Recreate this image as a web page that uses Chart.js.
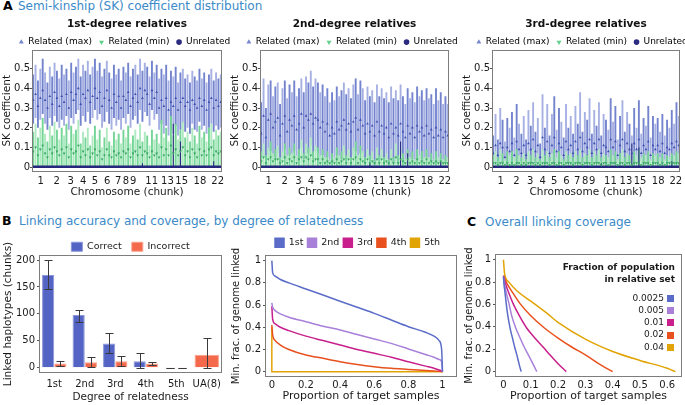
<!DOCTYPE html>
<html><head><meta charset="utf-8">
<script src="https://cdn.jsdelivr.net/npm/chart.js@4/dist/chart.umd.min.js"></script>
<style>
html,body{margin:0;padding:0;background:#fff;overflow:hidden}
#wrap{position:relative;width:685px;height:405px;background:#fff;font-family:'DejaVu Sans',sans-serif;overflow:hidden}
canvas{position:absolute}
.pl{position:absolute;font-weight:bold;font-size:12.5px;line-height:14px;color:#000;white-space:nowrap}
.pt{position:absolute;font-size:12px;line-height:14px;color:#3b8ac9;white-space:nowrap}
</style></head><body>
<div id="wrap">
<div class="pl" style="left:3px;top:-1px">A</div><div class="pt" style="left:18px;top:-1px">Semi-kinship (SK) coefficient distribution</div>
<div class="pl" style="left:2px;top:214px">B</div><div class="pt" style="left:19px;top:214px">Linking accuracy and coverage, by degree of relatedness</div>
<div class="pl" style="left:467px;top:215px">C</div><div class="pt" style="left:485px;top:215px">Overall linking coverage</div>
<canvas id="a1" width="249" height="190" style="left:0px;top:14px"></canvas>
<canvas id="a2" width="248" height="190" style="left:228px;top:14px"></canvas>
<canvas id="a3" width="244" height="190" style="left:460px;top:14px"></canvas>
<canvas id="b1" width="228" height="173" style="left:0px;top:232px"></canvas>
<canvas id="b2" width="259" height="171" style="left:228px;top:234px"></canvas>
<canvas id="c1" width="225" height="173" style="left:460px;top:232px"></canvas>
</div>
<script>
// ---------- Panel A data (SK coefficient per chromosome chunk) ----------
const chrLabels = ['1','2','3','4','5','6','7','8','9','11','13','15','18','22'];
const chrTickPos = [3.7,10.4,16.3,21.6,26.5,31.7,36.3,39.6,42.6,50.4,57.0,63.0,70.7,78.2];
const skTicks = [0,0.1,0.2,0.3,0.4,0.5];
const skLegendLabels = ['Related (max)','Related (min)','Unrelated'];

const a1MaxHigh = [0.47,0.52,0.44,0.50,0.55,0.48,0.43,0.51,0.46,0.53,0.49,0.45,0.52,0.47,0.50,0.44,0.53,0.48,0.51,0.55,0.46,0.52,0.49,0.54,0.47,0.51,0.55,0.49,0.53,0.46,0.50,0.54,0.48,0.45,0.52,0.47,0.50,0.44,0.51,0.48,0.53,0.46,0.50,0.52,0.47,0.55,0.49,0.53,0.51,0.46,0.54,0.48,0.52,0.45,0.50,0.47,0.52,0.44,0.49,0.46,0.51,0.43,0.48,0.50,0.45,0.47,0.43,0.49,0.46,0.44,0.50,0.45,0.48,0.43,0.47,0.50,0.44,0.48,0.45,0.47];
const a1MaxLow = [0.22,0.25,0.20,0.24,0.27,0.22,0.19,0.25,0.21,0.26,0.23,0.20,0.24,0.21,0.26,0.19,0.25,0.22,0.27,0.29,0.21,0.26,0.23,0.28,0.22,0.25,0.29,0.24,0.27,0.20,0.23,0.28,0.22,0.19,0.25,0.21,0.24,0.19,0.25,0.22,0.27,0.20,0.24,0.26,0.22,0.29,0.23,0.28,0.26,0.21,0.29,0.24,0.27,0.19,0.22,0.17,0.21,0.16,0.19,0.17,0.21,0.16,0.19,0.22,0.18,0.20,0.17,0.22,0.19,0.18,0.23,0.19,0.21,0.17,0.20,0.22,0.18,0.21,0.19,0.20];
const a1MaxMean = [0.34,0.37,0.31,0.35,0.39,0.34,0.30,0.36,0.32,0.38,0.35,0.31,0.36,0.33,0.37,0.30,0.38,0.34,0.37,0.40,0.32,0.37,0.35,0.39,0.33,0.36,0.40,0.35,0.38,0.31,0.35,0.39,0.34,0.30,0.37,0.33,0.36,0.30,0.36,0.34,0.38,0.31,0.35,0.37,0.33,0.40,0.35,0.39,0.37,0.32,0.39,0.35,0.38,0.30,0.34,0.31,0.35,0.29,0.33,0.31,0.35,0.29,0.33,0.35,0.31,0.33,0.29,0.34,0.32,0.30,0.35,0.31,0.34,0.29,0.33,0.35,0.30,0.34,0.31,0.33];
const a1MinHigh = [0.18,0.22,0.15,0.20,0.25,0.17,0.13,0.21,0.16,0.23,0.19,0.14,0.20,0.16,0.22,0.12,0.21,0.17,0.19,0.24,0.12,0.18,0.15,0.20,0.11,0.16,0.21,0.14,0.19,0.10,0.15,0.20,0.13,0.11,0.18,0.14,0.17,0.12,0.19,0.15,0.21,0.12,0.16,0.19,0.14,0.22,0.13,0.18,0.16,0.11,0.19,0.14,0.17,0.12,0.24,0.15,0.20,0.13,0.26,0.16,0.22,0.14,0.19,0.23,0.15,0.18,0.13,0.20,0.16,0.12,0.21,0.15,0.18,0.13,0.20,0.22,0.14,0.19,0.16,0.18];
const a1MinMean = [0.08,0.10,0.06,0.09,0.11,0.07,0.05,0.09,0.07,0.10,0.08,0.06,0.09,0.07,0.10,0.05,0.09,0.07,0.08,0.11,0.05,0.08,0.06,0.09,0.05,0.07,0.09,0.06,0.08,0.04,0.06,0.09,0.06,0.05,0.08,0.06,0.07,0.05,0.08,0.07,0.09,0.05,0.07,0.08,0.06,0.10,0.06,0.08,0.07,0.05,0.08,0.06,0.07,0.05,0.10,0.06,0.09,0.06,0.11,0.07,0.09,0.06,0.08,0.10,0.06,0.08,0.05,0.09,0.07,0.05,0.09,0.06,0.08,0.06,0.09,0.10,0.06,0.08,0.07,0.08];

const a2MaxHigh = [0.33,0.45,0.30,0.42,0.44,0.36,0.41,0.43,0.32,0.40,0.44,0.35,0.42,0.38,0.44,0.36,0.40,0.45,0.38,0.46,0.43,0.49,0.41,0.45,0.43,0.38,0.42,0.36,0.40,0.33,0.38,0.34,0.41,0.36,0.39,0.43,0.37,0.40,0.35,0.42,0.45,0.37,0.44,0.40,0.34,0.41,0.36,0.39,0.33,0.42,0.36,0.40,0.35,0.38,0.33,0.41,0.35,0.39,0.34,0.42,0.36,0.32,0.40,0.35,0.38,0.33,0.41,0.36,0.39,0.34,0.40,0.35,0.37,0.32,0.40,0.34,0.38,0.32,0.36,0.32];
const a2MaxLow = [0.02,0.05,0.01,0.06,0.08,0.03,0.05,0.07,0.02,0.04,0.09,0.03,0.06,0.04,0.08,0.03,0.05,0.10,0.04,0.09,0.07,0.11,0.05,0.08,0.07,0.03,0.06,0.02,0.05,0.01,0.04,0.02,0.06,0.03,0.04,0.07,0.03,0.05,0.02,0.06,0.08,0.03,0.07,0.05,0.02,0.05,0.03,0.04,0.01,0.06,0.03,0.05,0.02,0.04,0.01,0.05,0.02,0.04,0.02,0.06,0.03,0.01,0.05,0.02,0.04,0.01,0.05,0.03,0.04,0.02,0.05,0.02,0.03,0.01,0.05,0.02,0.04,0.01,0.03,0.01];
const a2MaxMean = [0.17,0.26,0.15,0.24,0.27,0.20,0.23,0.25,0.16,0.22,0.26,0.18,0.24,0.21,0.26,0.19,0.22,0.27,0.20,0.26,0.24,0.27,0.22,0.25,0.24,0.20,0.23,0.18,0.22,0.16,0.20,0.17,0.23,0.19,0.21,0.24,0.19,0.22,0.18,0.23,0.25,0.19,0.24,0.21,0.17,0.22,0.18,0.21,0.16,0.23,0.18,0.21,0.17,0.20,0.15,0.22,0.17,0.20,0.16,0.22,0.18,0.15,0.21,0.17,0.20,0.15,0.21,0.18,0.20,0.16,0.21,0.17,0.19,0.15,0.20,0.16,0.19,0.15,0.18,0.16];
const a2MinHigh = [0.08,0.12,0.06,0.10,0.13,0.07,0.09,0.11,0.05,0.08,0.12,0.06,0.10,0.07,0.12,0.06,0.09,0.14,0.07,0.12,0.10,0.15,0.08,0.11,0.10,0.06,0.09,0.05,0.08,0.04,0.07,0.05,0.10,0.06,0.08,0.11,0.06,0.09,0.05,0.10,0.13,0.06,0.11,0.08,0.05,0.09,0.06,0.08,0.04,0.10,0.06,0.09,0.05,0.07,0.04,0.09,0.05,0.12,0.06,0.10,0.07,0.04,0.09,0.05,0.08,0.04,0.09,0.06,0.08,0.05,0.09,0.05,0.07,0.04,0.08,0.05,0.07,0.04,0.06,0.05];
const a2MinMean = [0.03,0.05,0.02,0.04,0.05,0.03,0.04,0.04,0.02,0.03,0.05,0.02,0.04,0.03,0.05,0.02,0.04,0.05,0.03,0.05,0.04,0.06,0.03,0.04,0.04,0.02,0.04,0.02,0.03,0.02,0.03,0.02,0.04,0.02,0.03,0.04,0.02,0.04,0.02,0.04,0.05,0.02,0.04,0.03,0.02,0.04,0.02,0.03,0.02,0.04,0.02,0.04,0.02,0.03,0.02,0.04,0.02,0.05,0.02,0.04,0.03,0.02,0.04,0.02,0.03,0.02,0.04,0.02,0.03,0.02,0.04,0.02,0.03,0.02,0.03,0.02,0.03,0.02,0.02,0.02];

const a3MaxHigh = [0.16,0.27,0.14,0.30,0.24,0.13,0.25,0.20,0.28,0.15,0.32,0.22,0.17,0.26,0.14,0.29,0.21,0.33,0.18,0.25,0.12,0.37,0.20,0.32,0.16,0.27,0.36,0.19,0.30,0.23,0.15,0.32,0.20,0.26,0.17,0.31,0.22,0.38,0.18,0.28,0.24,0.35,0.17,0.29,0.21,0.33,0.16,0.27,0.24,0.19,0.35,0.23,0.31,0.14,0.26,0.34,0.18,0.28,0.22,0.16,0.30,0.20,0.34,0.17,0.25,0.21,0.31,0.15,0.26,0.22,0.25,0.18,0.27,0.16,0.24,0.20,0.29,0.22,0.33,0.26];
const a3MaxLow = [0.02,0.01,0.03,0.01,0.02,0.03,0.01,0.02,0.01,0.03,0.01,0.02,0.03,0.01,0.03,0.01,0.02,0.01,0.02,0.01,0.03,0.01,0.02,0.01,0.03,0.01,0.01,0.02,0.01,0.02,0.03,0.01,0.02,0.01,0.03,0.01,0.02,0.01,0.02,0.01,0.02,0.01,0.03,0.01,0.02,0.01,0.03,0.01,0.02,0.02,0.01,0.02,0.01,0.03,0.01,0.01,0.02,0.01,0.02,0.03,0.01,0.02,0.01,0.03,0.01,0.02,0.01,0.03,0.01,0.02,0.01,0.02,0.01,0.03,0.01,0.02,0.01,0.02,0.01,0.01];
const a3MaxMean = [0.07,0.11,0.06,0.12,0.10,0.05,0.10,0.08,0.12,0.06,0.13,0.09,0.07,0.11,0.06,0.12,0.09,0.14,0.08,0.11,0.05,0.15,0.09,0.13,0.07,0.11,0.15,0.08,0.12,0.10,0.06,0.13,0.09,0.11,0.07,0.13,0.09,0.15,0.08,0.12,0.10,0.14,0.07,0.12,0.09,0.14,0.07,0.11,0.10,0.08,0.14,0.10,0.13,0.06,0.11,0.14,0.08,0.12,0.09,0.07,0.12,0.09,0.14,0.07,0.11,0.09,0.13,0.06,0.11,0.09,0.11,0.08,0.12,0.07,0.10,0.09,0.12,0.10,0.13,0.11];
const a3MinHigh = [0.06,0.08,0.05,0.09,0.07,0.04,0.08,0.06,0.08,0.05,0.09,0.06,0.05,0.07,0.04,0.08,0.06,0.09,0.05,0.07,0.04,0.09,0.06,0.08,0.05,0.07,0.09,0.05,0.08,0.06,0.04,0.08,0.06,0.07,0.05,0.08,0.06,0.09,0.05,0.07,0.06,0.09,0.05,0.08,0.06,0.09,0.05,0.07,0.06,0.05,0.09,0.06,0.08,0.04,0.07,0.09,0.05,0.07,0.06,0.04,0.08,0.06,0.09,0.05,0.07,0.06,0.08,0.04,0.07,0.06,0.07,0.05,0.07,0.04,0.06,0.05,0.07,0.06,0.08,0.07];
const a3MinMean = [0.02,0.02,0.01,0.02,0.02,0.01,0.02,0.01,0.02,0.01,0.02,0.02,0.01,0.02,0.01,0.02,0.02,0.02,0.01,0.02,0.01,0.02,0.02,0.02,0.01,0.02,0.02,0.01,0.02,0.02,0.01,0.02,0.02,0.02,0.01,0.02,0.02,0.02,0.01,0.02,0.02,0.02,0.01,0.02,0.02,0.02,0.01,0.02,0.02,0.01,0.02,0.02,0.02,0.01,0.02,0.02,0.01,0.02,0.02,0.01,0.02,0.02,0.02,0.01,0.02,0.02,0.02,0.01,0.02,0.02,0.02,0.01,0.02,0.01,0.02,0.02,0.02,0.02,0.02,0.02];

// unrelated pairs: near-zero level everywhere plus a few spikes
const unrelSpikeChunks = [46,59,62,76];
const a1UnrelSpikes = [0.02,0.22,0.13,0.03];
const a2UnrelSpikes = [0.02,0.13,0.07,0.03];
const a3UnrelSpikes = [0.02,0.12,0.10,0.03];
const unrelLevel = [0.002,0.002,0.002];

// ---------- Panel B data ----------
const degrees = ['1st','2nd','3rd','4th','5th','UA(8)'];
const correct = [172,98,45,12,0.4,null];
const correctLo = [146,85,28,0,0,null];
const correctHi = [200,108,64,27,0.4,null];
const incorrect = [8,10,12,8,0.4,24];
const incorrectLo = [4,2,4,5,0,0];
const incorrectHi = [12,19,22,11,0.4,56];
const barTicks = [0,50,100,150,200];

const propX = [0,0.005,0.02,0.05,0.1,0.2,0.3,0.4,0.5,0.6,0.7,0.8,0.9,0.95,0.98,0.995,1];
const deg1 = [1.0,0.89,0.86,0.83,0.80,0.745,0.69,0.635,0.58,0.525,0.465,0.405,0.355,0.32,0.28,0.2,0.0];
const deg2 = [0.62,0.58,0.55,0.52,0.49,0.45,0.41,0.375,0.335,0.295,0.255,0.205,0.155,0.13,0.11,0.09,0.0];
const deg3 = [0.59,0.47,0.43,0.40,0.37,0.32,0.28,0.24,0.20,0.165,0.13,0.09,0.05,0.03,0.015,0.005,0.0];
const deg4 = [0.42,0.33,0.28,0.24,0.20,0.15,0.12,0.09,0.065,0.045,0.03,0.02,0.01,0.006,0.003,0.001,0.0];
const deg5X = [0,0,1];
const deg5 = [0.40,0,0];
const degLabels = ['1st','2nd','3rd','4th','5th'];
const fracTicks = [0,0.2,0.4,0.6,0.8,1];

// ---------- Panel C data ----------
const covLabels = ['0.0025','0.005','0.01','0.02','0.04'];
const covX0025 = [0,0.002,0.005,0.01,0.016,0.025,0.033,0.041,0.049,0.058,0.065];
const cov0025 = [0.85,0.78,0.72,0.61,0.50,0.38,0.30,0.22,0.15,0.06,0.0];
const covX005 = [0,0.004,0.009,0.02,0.03,0.045,0.061,0.076,0.091,0.108,0.122];
const cov005 = [0.85,0.78,0.72,0.61,0.50,0.39,0.30,0.22,0.15,0.07,0.0];
const covX01 = [0,0.008,0.017,0.035,0.058,0.085,0.115,0.145,0.17,0.2,0.23];
const cov01 = [0.85,0.78,0.72,0.61,0.50,0.39,0.30,0.22,0.15,0.07,0.0];
const covX02 = [0,0.012,0.03,0.06,0.1,0.15,0.2,0.25,0.3,0.35,0.4];
const cov02 = [0.86,0.79,0.72,0.61,0.50,0.39,0.30,0.22,0.15,0.07,0.0];
const covX04 = [0,0.004,0.02,0.05,0.1,0.16,0.2,0.3,0.4,0.5,0.6,0.63];
const cov04 = [1.0,0.88,0.8,0.72,0.63,0.52,0.44,0.29,0.18,0.1,0.03,0.0];
const covTicksX = [0,0.1,0.2,0.3,0.4,0.5,0.6];
const covLegendTitle = ['Fraction of population','in relative set'];

// ---------- common ----------
const FF = "'DejaVu Sans', sans-serif";
Chart.defaults.font.family = FF;
Chart.defaults.color = '#1a1a1a';
Chart.defaults.animation = false;
Chart.defaults.events = [];
Chart.defaults.plugins.tooltip.enabled = false;
const palette = ['#5b6cc8','#a880da','#c81f8c','#e8511d','#e2a404'];

const boxPlugin = {id:'box', afterDraw(chart){
  const a = chart.chartArea, ctx = chart.ctx;
  ctx.save(); ctx.strokeStyle = '#7d7d7d'; ctx.lineWidth = 1;
  ctx.strokeRect(Math.round(a.left)+0.5, Math.round(a.top)+0.5, Math.round(a.right-a.left)-1, Math.round(a.bottom-a.top)-1);
  ctx.restore();
}};
const setTicks = vals => s => { s.ticks = vals.map(v => ({value: v})); };
const yTickGrid = {display:true, drawOnChartArea:false, drawTicks:true, tickLength:2, color:'#555'};
const noGrid = {display:false, drawTicks:false};
// an empty right-hand spacer axis so the full-width legend can be centred like the original
const spacerAxis = w => ({position:'right', display:true, min:0, max:1, grid:noGrid, border:{display:false}, ticks:{display:false}, afterFit: s => { s.width = w; }});

function skChart(id, title, padRight, mx, mn, spikes, level) {
  const n = mx.high.length;
  const xs = mx.high.map((_, i) => i + 0.5);
  new Chart(document.getElementById(id), {
    type: 'bar',
    data: { datasets: [
      {type:'line', data: xs.map((x,i)=>({x, y:mx.mean[i]})), showLine:false, pointStyle:'triangle', pointRadius:1.6, pointBackgroundColor:'#3f50b0', pointBorderWidth:0, order:0},
      {type:'line', data: xs.map((x,i)=>({x, y:mn.mean[i]})), showLine:false, pointStyle:'triangle', pointRotation:180, pointRadius:1.6, pointBackgroundColor:'#33a35e', pointBorderWidth:0, order:1},
      {type:'line', data: [{x:0, y:level},{x:n, y:level}], borderColor:'#26267c', borderWidth:2.5, pointRadius:0, order:2},
      {type:'bar', data: unrelSpikeChunks.map((c,i)=>({x:c+0.5, y:[0, spikes[i]]})), backgroundColor:'#26267c', barPercentage:0.45, categoryPercentage:1, grouped:false, order:3},
      {type:'bar', data: xs.map((x,i)=>({x, y:[0, mn.high[i]]})), backgroundColor: c => c.dataIndex % 2 ? '#aee9c0' : '#74d596', barPercentage:0.8, categoryPercentage:1, grouped:false, order:4},
      {type:'bar', data: xs.map((x,i)=>({x, y:[mx.low[i], mx.high[i]]})), backgroundColor: c => c.dataIndex % 2 ? '#a6b0e3' : '#7383cd', barPercentage:0.8, categoryPercentage:1, grouped:false, order:5}
    ]},
    options: {
      responsive:false, devicePixelRatio:1,
      layout:{padding:0},
      plugins:{
        title:{display:true, text:title, fullSize:false, font:{size:10.5, weight:'bold'}, padding:{top:4, bottom:0}, color:'#111'},
        legend:{display:true, fullSize:true, maxHeight:19, labels:{usePointStyle:true, boxWidth:5, boxHeight:4, padding:7, font:{size:9},
          generateLabels: () => [
            {text:skLegendLabels[0], fillStyle:'#7585d0', strokeStyle:'#7585d0', lineWidth:0, pointStyle:'triangle', rotation:0, hidden:false},
            {text:skLegendLabels[1], fillStyle:'#5fd08a', strokeStyle:'#5fd08a', lineWidth:0, pointStyle:'triangle', rotation:180, hidden:false},
            {text:skLegendLabels[2], fillStyle:'#2b2b80', strokeStyle:'#2b2b80', lineWidth:0, pointStyle:'circle', rotation:0, hidden:false}
          ]}}
      },
      scales:{
        x:{type:'linear', min:0, max:n, offset:false, grid:noGrid, border:{display:false},
           afterBuildTicks: setTicks(chrTickPos), afterFit: s => { s.height = 32; },
           ticks:{autoSkip:false, maxRotation:0, padding:3, font:{size:10}, callback:(v,i)=>chrLabels[i]},
           title:{display:true, text:'Chromosome (chunk)', font:{size:10.5}, padding:{top:0, bottom:5}}},
        y:{min:-0.025, max:0.597, grid:yTickGrid, border:{display:false},
           afterBuildTicks: setTicks(skTicks), afterFit: s => { s.width = 32; },
           ticks:{padding:0, font:{size:10}, callback:v=>String(v)},
           title:{display:true, text:'SK coefficient', font:{size:10.5}, padding:{top:1, bottom:0}}},
        yR: spacerAxis(padRight)
      }
    },
    plugins:[boxPlugin]
  });
}
skChart('a1','1st-degree relatives',27,{high:a1MaxHigh,low:a1MaxLow,mean:a1MaxMean},{high:a1MinHigh,mean:a1MinMean},a1UnrelSpikes,unrelLevel[0]);
skChart('a2','2nd-degree relatives',27,{high:a2MaxHigh,low:a2MaxLow,mean:a2MaxMean},{high:a2MinHigh,mean:a2MinMean},a2UnrelSpikes,unrelLevel[1]);
skChart('a3','3rd-degree relatives',24,{high:a3MaxHigh,low:a3MaxLow,mean:a3MaxMean},{high:a3MinHigh,mean:a3MinMean},a3UnrelSpikes,unrelLevel[2]);

// ---------- B1: bars with error bars ----------
const errBars = [{lo:correctLo, hi:correctHi},{lo:incorrectLo, hi:incorrectHi}];
const errPlugin = {id:'err', afterDatasetsDraw(chart){
  const ctx = chart.ctx, y = chart.scales.y;
  ctx.save(); ctx.strokeStyle = '#3a3a3a'; ctx.lineWidth = 1;
  errBars.forEach((eb, d) => {
    chart.getDatasetMeta(d).data.forEach((el, i) => {
      if (eb.lo[i] == null || eb.hi[i] == null) return;
      const x = Math.round(el.x) + 0.5;
      const y1 = Math.round(y.getPixelForValue(eb.lo[i])) + 0.5, y2 = Math.round(y.getPixelForValue(eb.hi[i])) + 0.5;
      ctx.beginPath();
      ctx.moveTo(x, y1); ctx.lineTo(x, y2);
      ctx.moveTo(x-4, y1); ctx.lineTo(x+4, y1);
      ctx.moveTo(x-4, y2); ctx.lineTo(x+4, y2);
      ctx.stroke();
    });
  });
  ctx.restore();
}};
new Chart(document.getElementById('b1'), {
  type:'bar',
  data:{labels:degrees, datasets:[
    {label:'Correct', data:correct, backgroundColor:'#5364c4', borderColor:'#8a96d8', borderWidth:1, skipNull:true},
    {label:'Incorrect', data:incorrect, backgroundColor:'#f4694b', borderColor:'#f9a18c', borderWidth:1, skipNull:true}
  ]},
  options:{
    responsive:false, devicePixelRatio:1, categoryPercentage:0.8, barPercentage:1,
    layout:{padding:{left:0, right:6, top:0, bottom:0}},
    plugins:{legend:{fullSize:false, maxHeight:23, labels:{boxWidth:11, boxHeight:9, padding:10, font:{size:9.5}}}},
    scales:{
      x:{grid:noGrid, border:{display:false}, afterFit: s => { s.height = 32; },
         ticks:{padding:5, autoSkip:false, maxRotation:0, minRotation:0, font:{size:10}},
         title:{display:true, text:'Degree of relatedness', font:{size:10.5}, padding:{top:0, bottom:1}}},
      y:{min:-9.8, max:209.3, grid:yTickGrid, border:{display:false},
         afterBuildTicks: setTicks(barTicks), afterFit: s => { s.width = 39; },
         ticks:{padding:2, font:{size:10}, callback:v=>String(v)},
         title:{display:true, text:'Linked haplotypes (chunks)', font:{size:10.5}, padding:{top:2, bottom:0}}}
    }
  },
  plugins:[boxPlugin, errPlugin]
});

// ---------- B2: coverage by degree ----------
const degSeries = [deg1, deg2, deg3, deg4];
new Chart(document.getElementById('b2'), {
  type:'line',
  data:{datasets:[
    ...degSeries.map((ys, k) => ({label:degLabels[k], data: propX.map((x,i)=>({x, y:ys[i]})), borderColor:palette[k], backgroundColor:palette[k], borderWidth:1.5, pointRadius:0, cubicInterpolationMode:'monotone', fill:false})),
    {label:degLabels[4], data: deg5X.map((x,i)=>({x, y:deg5[i]})), borderColor:palette[4], backgroundColor:palette[4], borderWidth:1.5, pointRadius:0, fill:false}
  ]},
  options:{
    responsive:false, devicePixelRatio:1,
    layout:{padding:0},
    plugins:{legend:{fullSize:true, maxHeight:21, labels:{boxWidth:9, boxHeight:9, padding:4, font:{size:9.5}}}},
    scales:{
      x:{type:'linear', min:-0.04, max:1.085, grid:noGrid, border:{display:false},
         afterBuildTicks: setTicks(fracTicks), afterFit: s => { s.height = 28; },
         ticks:{padding:2, font:{size:10}, callback:v=>String(v)},
         title:{display:true, text:'Proportion of target samples', font:{size:11}, padding:{top:0, bottom:2}}},
      y:{min:-0.048, max:1.051, grid:yTickGrid, border:{display:false},
         afterBuildTicks: setTicks(fracTicks), afterFit: s => { s.width = 37; },
         ticks:{padding:2, font:{size:10}, callback:v=>String(v)},
         title:{display:true, text:'Min. frac. of genome linked', font:{size:10}, padding:{top:2, bottom:0}}},
      yR: spacerAxis(30)
    }
  },
  plugins:[boxPlugin]
});

// ---------- C: overall coverage ----------
const covSeries = [[covX0025,cov0025],[covX005,cov005],[covX01,cov01],[covX02,cov02],[covX04,cov04]];
const cLegend = {id:'cLegend', afterDraw(chart){
  const ctx = chart.ctx, a = chart.chartArea;
  ctx.save(); ctx.textAlign = 'right'; ctx.textBaseline = 'middle'; ctx.fillStyle = '#1a1a1a';
  const xr = a.right - 7;
  ctx.font = "bold 9px " + FF;
  ctx.fillText(covLegendTitle[0], xr, a.top + 14);
  ctx.fillText(covLegendTitle[1], xr, a.top + 26);
  ctx.font = "9px " + FF;
  chart.data.datasets.forEach((ds, i) => {
    const yc = a.top + 44.5 + i * 12.2;
    ctx.fillStyle = ds.borderColor; ctx.fillRect(xr - 8, Math.round(yc - 3.5), 7, 7);
    ctx.fillStyle = '#1a1a1a'; ctx.fillText(ds.label, xr - 11, yc);
  });
  ctx.restore();
}};
new Chart(document.getElementById('c1'), {
  type:'line',
  data:{datasets: covSeries.map(([xsC, ysC], k) => ({label:covLabels[k], data: xsC.map((x,i)=>({x, y:ysC[i]})), borderColor:palette[k], backgroundColor:palette[k], borderWidth:1.5, pointRadius:0, cubicInterpolationMode:'monotone', fill:false}))},
  options:{
    responsive:false, devicePixelRatio:1,
    layout:{padding:{left:0, right:3, top:22, bottom:0}},
    plugins:{legend:{display:false}},
    scales:{
      x:{type:'linear', min:-0.031, max:0.654, grid:noGrid, border:{display:false},
         afterBuildTicks: setTicks(covTicksX), afterFit: s => { s.height = 28; },
         ticks:{padding:2, font:{size:10}, callback:v=>String(v)},
         title:{display:true, text:'Proportion of target samples', font:{size:11}, padding:{top:0, bottom:2}}},
      y:{min:-0.048, max:1.051, grid:yTickGrid, border:{display:false},
         afterBuildTicks: setTicks(fracTicks), afterFit: s => { s.width = 35; },
         ticks:{padding:2, font:{size:10}, callback:v=>String(v)},
         title:{display:true, text:'Min. frac. of genome linked', font:{size:10}, padding:{top:3, bottom:0}}}
    }
  },
  plugins:[boxPlugin, cLegend]
});
</script>
</body></html>
